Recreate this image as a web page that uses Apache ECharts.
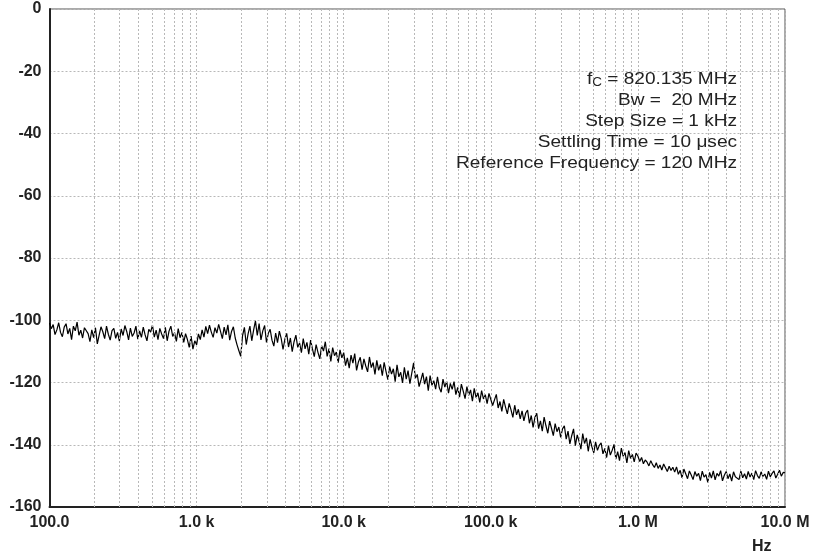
<!DOCTYPE html>
<html>
<head>
<meta charset="utf-8">
<script src="https://cdn.jsdelivr.net/npm/echarts@6/dist/echarts.min.js"></script>
<style>
  html, body { margin: 0; padding: 0; background: #fff; }
  #chart { width: 823px; height: 555px; }
</style>
</head>
<body>
<div id="chart"></div>
<script>
// Phase noise trace, sampled on a log grid: 10^(logStart + i*logStep) Hz
const logStart = 2;
const logStep = 0.0125;
const noiseDbc = [
  // 100 Hz .. 1 kHz
  -100.9,-102.7,-101.4,-104.6,-103.1,-100.8,-103.9,-105.3,-102.2,-101.1,-104.4,-102.6,-106.2,-101.9,-103.4,-100.6,-104.8,-103.2,-105.7,-102.4,
  -101.8,-104.3,-106.9,-103.1,-105.6,-102.4,-107.6,-104.8,-102.1,-103.7,-105.9,-101.9,-104.5,-106.4,-103.3,-102.6,-105.8,-103.9,-106.7,-102.8,
  -104.9,-101.7,-103.6,-106.3,-102.5,-105.2,-104.1,-101.9,-106.1,-103.4,-105.5,-102.2,-104.7,-106.6,-102.9,-103.8,-101.6,-105.4,-103.2,-106.2,
  -102.6,-104.4,-105.9,-102.3,-106.6,-103.5,-101.9,-105.2,-104.0,-106.8,-102.7,-105.6,-103.9,-107.1,-104.3,-106.2,-108.7,-105.1,-109.3,-106.6,
  // 1 kHz .. 10 kHz
  -107.9,-104.4,-106.2,-103.1,-105.4,-102.0,-104.3,-101.6,-103.8,-105.5,-102.4,-104.1,-101.3,-103.6,-105.9,-102.2,-104.7,-101.5,-106.4,-103.6,
  -102.1,-105.7,-107.9,-109.8,-111.6,-104.9,-102.3,-107.8,-104.4,-101.9,-106.6,-103.2,-100.2,-104.9,-101.1,-106.3,-103.4,-101.7,-107.1,-104.2,
  -102.9,-106.4,-108.3,-104.1,-107.2,-103.5,-105.8,-109.4,-106.1,-104.2,-108.6,-105.7,-110.1,-106.9,-104.8,-108.7,-107.3,-110.4,-105.9,-109.2,
  -107.1,-110.9,-106.4,-109.2,-111.7,-107.8,-110.3,-112.4,-108.2,-109.9,-106.9,-111.6,-109.1,-113.2,-108.8,-111.4,-110.2,-113.6,-109.5,-112.1,
  // 10 kHz .. 100 kHz
  -110.4,-114.6,-112.1,-115.4,-111.2,-113.8,-110.7,-116.1,-113.4,-111.9,-115.9,-112.4,-114.7,-116.6,-111.8,-115.2,-113.6,-117.4,-112.9,-116.1,
  -114.2,-117.8,-113.5,-116.4,-119.1,-114.9,-117.3,-115.6,-119.7,-114.3,-118.2,-116.7,-120.1,-115.1,-118.9,-116.2,-120.4,-117.1,-113.7,-118.6,
  -117.4,-121.3,-119.2,-116.9,-120.5,-118.1,-122.6,-117.8,-120.9,-119.4,-122.1,-118.2,-121.7,-123.1,-118.9,-121.5,-119.6,-123.4,-120.3,-122.2,
  -119.7,-123.9,-121.6,-124.7,-120.5,-122.8,-125.2,-121.3,-124.1,-122.4,-126.0,-121.9,-124.9,-123.3,-126.4,-122.6,-125.3,-123.9,-126.8,-123.5,
  // 100 kHz .. 1 MHz
  -124.1,-127.4,-125.6,-123.8,-128.2,-126.1,-129.3,-125.4,-127.9,-130.1,-126.7,-128.8,-131.2,-127.3,-130.4,-128.6,-131.7,-129.1,-132.3,-129.8,
  -128.9,-133.1,-130.6,-134.4,-131.2,-129.9,-134.8,-132.3,-135.6,-131.1,-133.9,-136.3,-132.4,-134.7,-137.1,-133.2,-135.8,-134.3,-137.6,-134.9,
  -133.9,-138.2,-135.6,-139.7,-137.1,-134.9,-140.3,-136.8,-138.9,-141.4,-136.4,-139.6,-137.8,-142.1,-138.3,-140.7,-142.6,-139.1,-141.8,-140.2,
  -139.4,-142.9,-141.2,-144.1,-140.3,-143.3,-141.8,-139.9,-144.6,-142.2,-145.1,-141.1,-143.7,-142.5,-145.8,-141.9,-144.4,-143.1,-145.5,-142.7,
  // 1 MHz .. 10 MHz
  -143.6,-145.4,-144.1,-146.1,-144.9,-145.6,-146.8,-145.1,-146.4,-147.3,-145.8,-147.6,-146.5,-148.1,-146.2,-147.4,-148.6,-146.9,-148.3,-147.2,
  -148.8,-147.1,-149.5,-148.2,-150.6,-147.8,-149.3,-150.9,-148.4,-149.7,-151.2,-148.6,-150.1,-149.2,-151.5,-148.5,-150.4,-149.6,-152.1,-148.9,
  -150.7,-148.4,-151.3,-149.2,-150.1,-148.3,-151.6,-149.8,-148.6,-150.9,-149.4,-151.7,-148.7,-150.3,-149.9,-151.2,-148.5,-150.6,-149.3,-151.0,
  -148.6,-150.4,-149.1,-151.2,-148.3,-149.9,-150.8,-148.7,-150.2,-149.4,-151.1,-148.5,-150.3,-149.2,-148.4,-150.7,-149.5,-148.2,-150.1,-148.9,-149.0
];

// Axis ticks
const xTickValues = [100, 1e3, 1e4, 1e5, 1e6, 1e7];
const xTickLabels = ['100.0', '1.0 k', '10.0 k', '100.0 k', '1.0 M', '10.0 M'];
const yMin = -160, yMax = 0, yStep = 20;

// Test conditions shown in the upper right
const carrierText = ' = 820.135 MHz';
const conditionLines = [
  'Bw =  20 MHz',
  'Step Size = 1 kHz',
  'Settling Time = 10 μsec',
  'Reference Frequency = 120 MHz'
];

const FONT = '"Liberation Sans", Arial, Helvetica, sans-serif';
const NOTE_SIZE = 17;
const NOTE_STRETCH = 1.12;
const NOTE_RIGHT = 737;
const NOTE_TOP = 79;
const NOTE_GAP = 21.1;

const seriesData = noiseDbc.map((v, i) => [Math.pow(10, logStart + i * logStep), v]);

// Intermediate log grid lines (2..9 within each decade)
const minorGrid = [];
for (let d = 2; d < 7; d++) {
  for (let m = 2; m <= 9; m++) minorGrid.push({ xAxis: m * Math.pow(10, d) });
}

const gridDash = { color: '#b8b8b8', width: 1, type: [2, 2] };

const notes = [{
  type: 'text', x: NOTE_RIGHT, y: NOTE_TOP, scaleX: NOTE_STRETCH, z: 10,
  style: {
    text: '{n|f}{s|C}{n|' + carrierText + '}',
    align: 'right', verticalAlign: 'middle',
    rich: {
      n: { fontFamily: FONT, fontSize: NOTE_SIZE, fill: '#222', lineHeight: 20 },
      s: { fontFamily: FONT, fontSize: 12, fill: '#222', verticalAlign: 'bottom', lineHeight: 20, padding: [9, 0, 0, 0] }
    }
  }
}].concat(conditionLines.map((t, k) => ({
  type: 'text', x: NOTE_RIGHT, y: NOTE_TOP + NOTE_GAP * (k + 1), scaleX: NOTE_STRETCH, z: 10,
  style: {
    text: t, align: 'right', verticalAlign: 'middle',
    fontFamily: FONT, fontSize: NOTE_SIZE, fill: '#222'
  }
})));

const chart = echarts.init(document.getElementById('chart'), null, { renderer: 'canvas' });
chart.setOption({
  animation: false,
  backgroundColor: '#fff',
  grid: {
    left: 49.5, right: 38, top: 9, bottom: 48,
    show: true, borderColor: '#555', borderWidth: 1, backgroundColor: 'transparent'
  },
  xAxis: {
    type: 'log', logBase: 10, min: 100, max: 1e7,
    axisLine: { show: true, onZero: false, lineStyle: { color: '#222', width: 2 } },
    axisTick: { show: false },
    splitLine: { show: true, lineStyle: gridDash },
    axisLabel: {
      margin: 8,
      color: '#222', fontFamily: FONT, fontWeight: 'bold', fontSize: 16,
      formatter: v => {
        const k = xTickValues.findIndex(t => Math.abs(Math.log10(t) - Math.log10(v)) < 1e-6);
        return k >= 0 ? xTickLabels[k] : '';
      }
    }
  },
  yAxis: {
    type: 'value', min: yMin, max: yMax, interval: yStep,
    axisLine: { show: true, lineStyle: { color: '#222', width: 2 } },
    axisTick: { show: false },
    splitLine: { show: true, lineStyle: gridDash },
    axisLabel: { margin: 8, color: '#222', fontFamily: FONT, fontWeight: 'bold', fontSize: 16 }
  },
  series: [{
    type: 'line',
    data: seriesData,
    showSymbol: false,
    lineStyle: { color: '#000', width: 1.2 },
    z: 3,
    markLine: {
      silent: true, symbol: 'none', animation: false,
      label: { show: false },
      lineStyle: gridDash,
      emphasis: { disabled: true },
      data: minorGrid
    }
  }],
  graphic: notes.concat([{
    type: 'text', x: 752, y: 547, z: 10,
    style: {
      text: 'Hz', verticalAlign: 'middle',
      fontFamily: FONT, fontWeight: 'bold', fontSize: 16, fill: '#222'
    }
  }])
});
</script>
</body>
</html>
